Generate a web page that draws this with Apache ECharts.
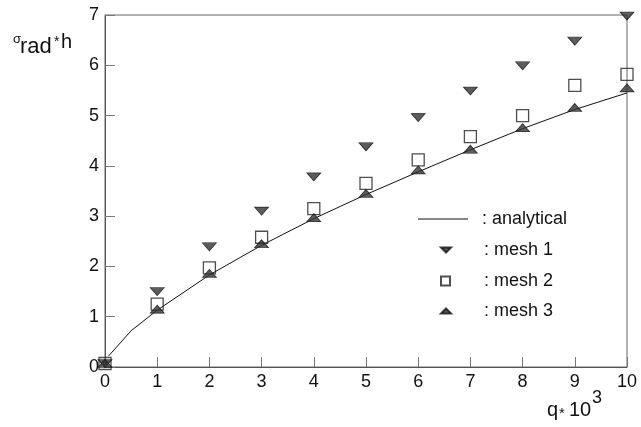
<!DOCTYPE html>
<html><head><meta charset="utf-8">
<script src="https://cdn.jsdelivr.net/npm/echarts@6/dist/echarts.min.js"></script>
<style>html,body{margin:0;padding:0;background:#fff}#c{width:641px;height:427px}</style>
</head><body><div id="c"></div>
<script>
const xTicks = [0,1,2,3,4,5,6,7,8,9,10];
const yTicks = [0,1,2,3,4,5,6,7];
const meshX = [0,1,2,3,4,5,6,7,8,9,10];
const mesh1 = [0.07,1.5,2.39,3.1,3.78,4.38,4.96,5.49,5.99,6.48,6.98];
const mesh2 = [0.07,1.25,1.97,2.58,3.15,3.65,4.12,4.58,5.0,5.6,5.82];
const mesh3 = [0.07,1.15,1.86,2.45,2.97,3.45,3.92,4.33,4.76,5.16,5.55];
const analyticalX = [0.07,0.5,1,2,3,4,5,6,7,8,9,10];
const analyticalY = [0.22,0.72,1.13,1.83,2.42,2.95,3.43,3.88,4.32,4.74,5.12,5.45];
const legendNames = ['analytical','mesh 1','mesh 2','mesh 3'];

const DOWN = 'path://M0,0 L2,0 L1,1 Z';
const UP = 'path://M1,0 L2,1 L0,1 Z';
const FONT = 'Liberation Sans, Arial, sans-serif';
const zip = (xs, ys) => xs.map((x, i) => [x, ys[i]]);

function legendAt(name, left, top, icon, w, h, pad) {
  return {
    data: [{name: name, icon: icon}], left: left, top: top, orient: 'vertical',
    itemWidth: w, itemHeight: h, padding: 0, selectedMode: false,
    formatter: ': {name}',
    textStyle: {fontFamily: FONT, fontSize: 18, color: '#111', padding: [0,0,0,pad]}
  };
}
function txt(s, x, y, size) {
  return {type: 'text', x: x, y: y, z: 100, style: {text: s, fontFamily: FONT, fontSize: size, fill: '#111'}};
}

const chart = echarts.init(document.getElementById('c'), null, {renderer: 'canvas'});
chart.setOption({
  animation: false,
  backgroundColor: '#fff',
  grid: {left: 105, right: 14, top: 15, bottom: 60, show: true, borderColor: '#666', borderWidth: 1},
  xAxis: {
    type: 'value', min: 0, max: 10, interval: 1,
    axisLine: {lineStyle: {color: '#555', width: 1}},
    axisTick: {inside: true, length: 10, lineStyle: {color: '#777'}},
    axisLabel: {fontFamily: FONT, fontSize: 18, color: '#111', margin: 6,
      formatter: v => xTicks.includes(v) ? String(v) : ''},
    splitLine: {show: false}
  },
  yAxis: {
    type: 'value', min: 0, max: 7, interval: 1,
    axisLine: {show: true, lineStyle: {color: '#555', width: 1}},
    axisTick: {show: true, inside: true, length: 10, lineStyle: {color: '#777'}},
    axisLabel: {fontFamily: FONT, fontSize: 18, color: '#111', margin: 6,
      formatter: v => yTicks.includes(v) ? String(v) : ''},
    splitLine: {show: false}
  },
  legend: [
    legendAt(legendNames[0], 418, 210, 'path://M0,0 L10,0 L10,0.2 L0,0.2 Z', 52, 1, 8),
    legendAt(legendNames[1], 440, 241, DOWN, 10, 6, 28),
    legendAt(legendNames[2], 440, 272, 'rect', 9, 9, 29),
    legendAt(legendNames[3], 440, 302, UP, 10, 6, 28)
  ],
  series: [
    {name: legendNames[0], type: 'line', data: zip(analyticalX, analyticalY), showSymbol: false, symbol: 'none',
      lineStyle: {color: '#111', width: 1}, itemStyle: {color: '#111'}, z: 2},
    {name: legendNames[1], type: 'scatter', data: zip(meshX, mesh1), symbol: DOWN, symbolSize: [14, 8],
      itemStyle: {color: '#333', borderColor: '#111', borderWidth: 0.8}, z: 3},
    {name: legendNames[2], type: 'scatter', data: zip(meshX, mesh2), symbol: 'rect', symbolSize: 12,
      itemStyle: {color: 'rgba(255,255,255,0)', borderColor: '#222', borderWidth: 1.3}, z: 3},
    {name: legendNames[3], type: 'scatter', data: zip(meshX, mesh3), symbol: UP, symbolSize: [14, 8],
      itemStyle: {color: '#333', borderColor: '#111', borderWidth: 0.8}, z: 4}
  ],
  graphic: [
    txt('σ', 13, 33, 13),
    txt('rad', 20, 36, 22),
    txt('*', 54, 35, 14),
    txt('h', 61, 32, 20),
    txt('q', 547, 400, 20),
    txt('*', 559, 406, 15),
    txt('10', 569, 400, 20),
    txt('3', 592, 389, 18)
  ]
});
</script></body></html>
